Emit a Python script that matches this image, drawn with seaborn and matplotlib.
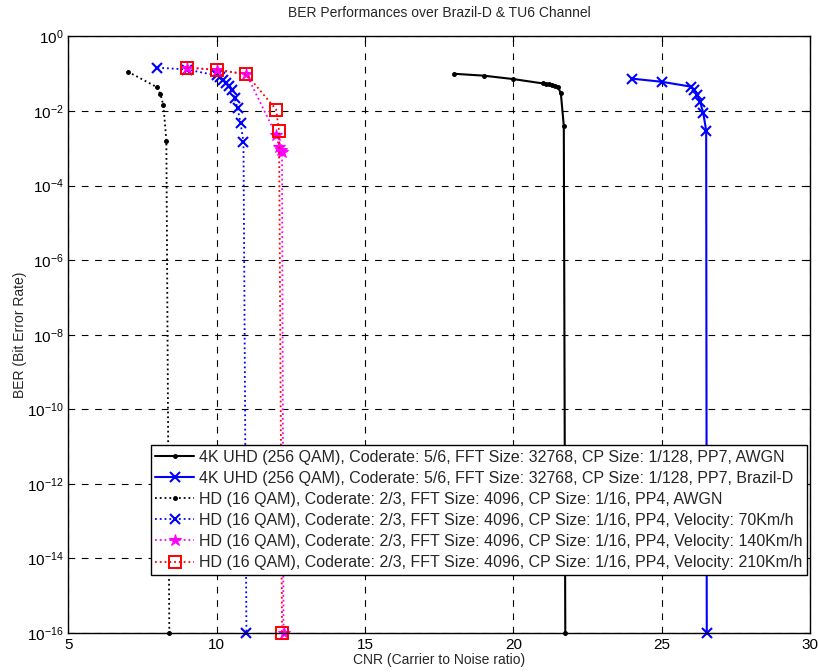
import numpy as np
import pandas as pd
import matplotlib
matplotlib.use("Agg")
import matplotlib.pyplot as plt
import matplotlib.ticker as mticker
import seaborn as sns

# CNR (dB) and BER values for each configuration
uhd_awgn_cnr = [18, 19, 20, 21, 21.1, 21.2, 21.3, 21.4, 21.5, 21.6, 21.7, 21.75]
uhd_awgn_ber = [0.10, 0.089, 0.072, 0.055, 0.054, 0.052, 0.050, 0.048, 0.045, 0.030, 0.004, 1e-16]

uhd_brazil_cnr = [24, 25, 26, 26.1, 26.2, 26.3, 26.4, 26.5, 26.52]
uhd_brazil_ber = [0.074, 0.061, 0.045, 0.037, 0.027, 0.017, 0.009, 0.003, 1e-16]

hd_awgn_cnr = [7, 8, 8.1, 8.2, 8.3, 8.4]
hd_awgn_ber = [0.114, 0.043, 0.028, 0.0145, 0.0016, 1e-16]

hd_70_cnr = [8, 9, 10, 10.1, 10.2, 10.3, 10.4, 10.5, 10.6, 10.7, 10.8, 10.9, 11.0]
hd_70_ber = [0.146, 0.13, 0.09, 0.08, 0.07, 0.058, 0.047, 0.036, 0.022, 0.012, 0.0048, 0.0015, 1e-16]

hd_140_cnr = [9, 10, 11, 12, 12.1, 12.15, 12.2, 12.25]
hd_140_ber = [0.146, 0.128, 0.097, 0.0023, 0.0011, 0.0009, 0.0008, 1e-16]

hd_210_cnr = [9, 10, 11, 12, 12.1, 12.2]
hd_210_ber = [0.146, 0.128, 0.097, 0.011, 0.0029, 1e-16]

labels = [
    "4K UHD (256 QAM), Coderate: 5/6, FFT Size: 32768, CP Size: 1/128, PP7, AWGN",
    "4K UHD (256 QAM), Coderate: 5/6, FFT Size: 32768, CP Size: 1/128, PP7, Brazil-D",
    "HD (16 QAM), Coderate: 2/3, FFT Size: 4096, CP Size: 1/16, PP4, AWGN",
    "HD (16 QAM), Coderate: 2/3, FFT Size: 4096, CP Size: 1/16, PP4, Velocity: 70Km/h",
    "HD (16 QAM), Coderate: 2/3, FFT Size: 4096, CP Size: 1/16, PP4, Velocity: 140Km/h",
    "HD (16 QAM), Coderate: 2/3, FFT Size: 4096, CP Size: 1/16, PP4, Velocity: 210Km/h",
]

sns.set_style("white")
plt.rcParams["font.family"] = ["Liberation Sans", "DejaVu Sans"]
plt.rcParams["mathtext.fontset"] = "custom"
plt.rcParams["mathtext.rm"] = "Liberation Sans"
plt.rcParams["mathtext.it"] = "Liberation Sans"

fig = plt.figure(figsize=(8.19, 6.72), dpi=100)
ax = fig.add_axes([0.0836, 0.058, 0.9054, 0.8877])

series = [
    (uhd_awgn_cnr, uhd_awgn_ber,
     dict(color="black", linestyle="-", marker=".", markersize=5.5, linewidth=1.5,
          markerfacecolor="black", markeredgecolor="black")),
    (uhd_brazil_cnr, uhd_brazil_ber,
     dict(color="blue", linestyle="-", marker="x", markersize=7, linewidth=1.5,
          markeredgecolor="blue", markeredgewidth=1.5)),
    (hd_awgn_cnr, hd_awgn_ber,
     dict(color="black", linestyle=":", marker=".", markersize=5.5, linewidth=1.3,
          markerfacecolor="black", markeredgecolor="black")),
    (hd_70_cnr, hd_70_ber,
     dict(color="blue", linestyle=":", marker="x", markersize=7, linewidth=1.3,
          markeredgecolor="blue", markeredgewidth=1.5)),
    (hd_140_cnr, hd_140_ber,
     dict(color="magenta", linestyle=":", marker="*", markersize=9, linewidth=1.3,
          markerfacecolor="magenta", markeredgecolor="magenta", markeredgewidth=0.8)),
    (hd_210_cnr, hd_210_ber,
     dict(color="red", linestyle=":", marker="s", markersize=8, linewidth=1.3,
          markerfacecolor="none", markeredgecolor="red", markeredgewidth=1.4)),
]

for (cnr, ber, style), lab in zip(series, labels):
    df = pd.DataFrame({"CNR": cnr, "BER": ber})
    sns.lineplot(data=df, x="CNR", y="BER", ax=ax, sort=False, estimator=None,
                 label=lab, clip_on=False, **style)

ax.set_yscale("log")
ax.set_xlim(5, 30)
ax.set_ylim(1e-16, 1)
ax.xaxis.set_major_locator(mticker.FixedLocator([5, 10, 15, 20, 25, 30]))
ax.yaxis.set_major_locator(mticker.FixedLocator([10.0 ** e for e in range(0, -17, -2)]))
ax.yaxis.set_major_formatter(mticker.LogFormatterSciNotation())
ax.yaxis.set_minor_locator(mticker.NullLocator())

ax.grid(True, which="major", color="black", linestyle=(0, (6, 6)), linewidth=0.8)
ax.tick_params(direction="in", top=True, right=True, length=4, width=0.8,
               labelsize=11, colors="black")
for sp in ax.spines.values():
    sp.set_color("black")
    sp.set_linewidth(1.0)

ax.set_title("BER Performances over Brazil-D & TU6 Channel", fontsize=10, pad=14)
ax.set_xlabel("CNR (Carrier to Noise ratio)", fontsize=10, labelpad=1)
ax.set_ylabel("BER (Bit Error Rate)", fontsize=10, labelpad=0)

leg = ax.legend(loc="lower right", bbox_to_anchor=(1.0, 0.092), fontsize=11.5,
                frameon=True, fancybox=False, framealpha=1, edgecolor="black",
                handlelength=2.4, handletextpad=0.3, labelspacing=0.38,
                borderpad=0.3, borderaxespad=0.2)
leg.get_frame().set_linewidth(1.0)

fig.savefig("out.png", dpi=100)
